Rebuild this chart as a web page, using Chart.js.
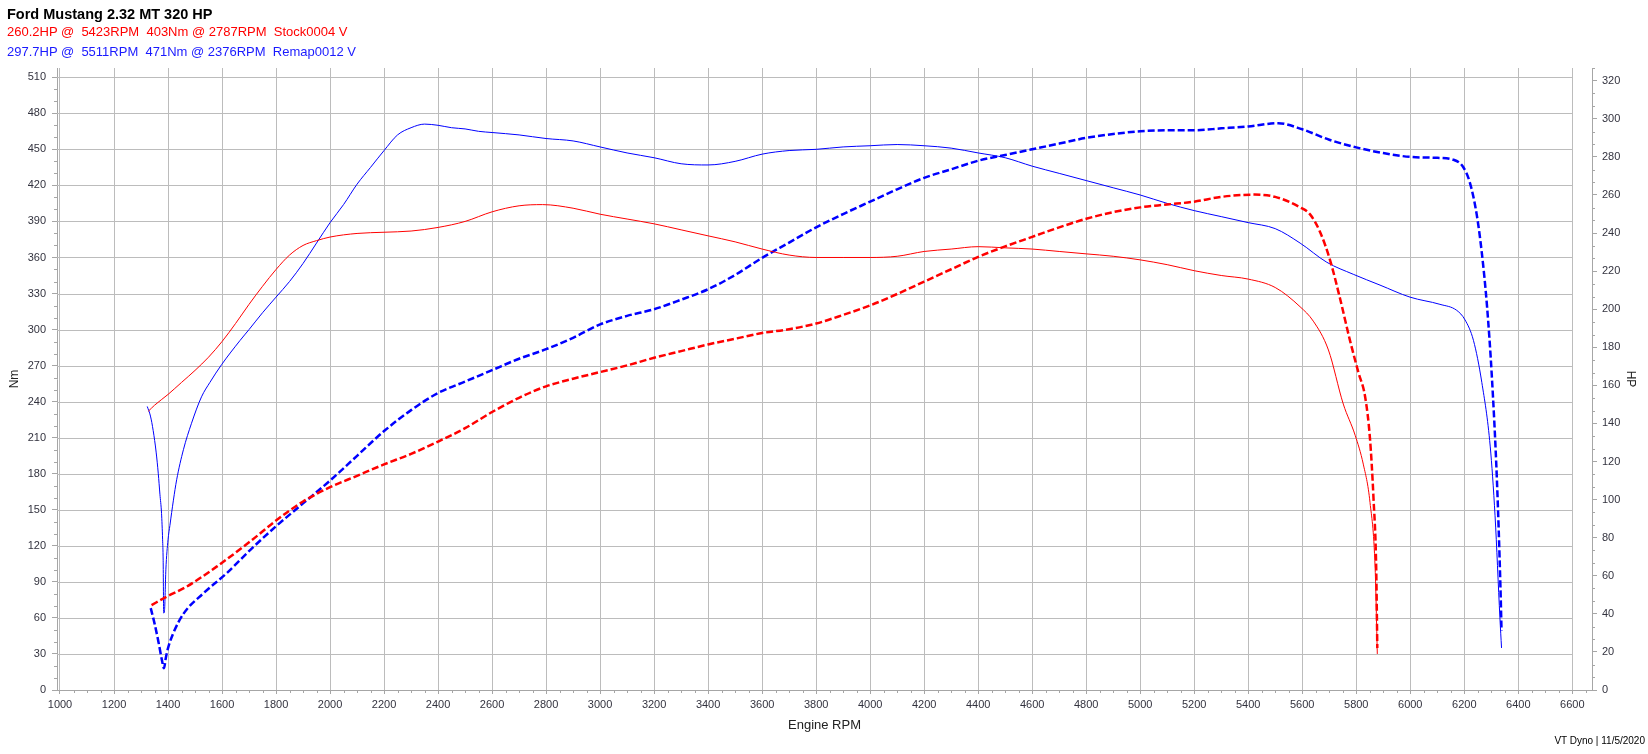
<!DOCTYPE html>
<html>
<head>
<meta charset="utf-8">
<title>Ford Mustang 2.32 MT 320 HP</title>
<script src="https://cdn.jsdelivr.net/npm/chart.js@4.4.1/dist/chart.umd.min.js"></script>
<style>
  html, body { margin: 0; padding: 0; background: #fff; }
  #wrap { position: relative; width: 1648px; height: 754px; overflow: hidden; }
  #chart { position: absolute; left: 0; top: 0; }
  .txt { position: absolute; font-family: "Liberation Sans", Arial, sans-serif; white-space: pre; }
  #title { left: 7px; top: 5px; font-size: 14.5px; line-height: 18px; font-weight: bold; color: #000; }
  #stock { left: 7px; top: 24px; font-size: 13px; line-height: 16px; color: #ff0000; }
  #remap { left: 7px; top: 44px; font-size: 13px; line-height: 16px; color: #1a1aff; }
  #foot { right: 3px; top: 734px; font-size: 10px; line-height: 14px; color: #000; }
</style>
</head>
<body>
<div id="wrap">
  <canvas id="chart" width="1648" height="754"></canvas>
  <div class="txt" id="title">Ford Mustang 2.32 MT 320 HP</div>
  <div class="txt" id="stock">260.2HP @  5423RPM  403Nm @ 2787RPM  Stock0004 V</div>
  <div class="txt" id="remap">297.7HP @  5511RPM  471Nm @ 2376RPM  Remap0012 V</div>
  <div class="txt" id="foot">VT Dyno | 11/5/2020</div>
</div>
<script>
// axis ticks
const rpmTickLabels = [1000, 1200, 1400, 1600, 1800, 2000, 2200, 2400, 2600, 2800, 3000, 3200, 3400, 3600,
  3800, 4000, 4200, 4400, 4600, 4800, 5000, 5200, 5400, 5600, 5800, 6000, 6200, 6400, 6600];
const nmTickLabels = [0, 30, 60, 90, 120, 150, 180, 210, 240, 270, 300, 330, 360, 390, 420, 450, 480, 510];
const hpTickLabels = [0, 20, 40, 60, 80, 100, 120, 140, 160, 180, 200, 220, 240, 260, 280, 300, 320];

// Stock0004 - torque (Nm)
const stockNmRpm = [1327, 1350, 1400, 1450, 1500, 1550, 1600, 1650, 1700, 1750, 1800, 1850, 1900, 1950, 2000,
  2100, 2200, 2300, 2400, 2500, 2600, 2700, 2787, 2900, 3000, 3100, 3200, 3300, 3400, 3500, 3600, 3700, 3800,
  3900, 4000, 4100, 4200, 4300, 4400, 4500, 4600, 4700, 4800, 4900, 5000, 5100, 5200, 5300, 5400, 5500, 5592,
  5641, 5697, 5752, 5796, 5826, 5851, 5870, 5878];
const stockNm = [232, 237, 246, 256, 266, 277, 290, 305, 321, 336, 350, 362, 370, 374, 377,
  380, 381, 382, 385, 390, 398, 403, 404, 401, 396, 392, 388, 383, 378, 373, 367, 362, 360,
  360, 360, 361, 365, 367, 369, 368, 367, 365, 363, 361, 358, 354, 349, 345, 342, 335, 319,
  307, 283, 238, 212, 188, 156, 101, 30];

// Stock0004 - power (HP)
const stockHpRpm = [1339, 1395, 1469, 1580, 1704, 1800, 1900, 2000, 2100, 2200, 2300, 2400, 2500, 2600, 2700,
  2800, 2900, 3000, 3100, 3200, 3300, 3400, 3500, 3600, 3700, 3800, 3900, 4000, 4100, 4200, 4300, 4400, 4500,
  4600, 4700, 4800, 4900, 5000, 5100, 5200, 5300, 5423, 5500, 5592, 5629, 5666, 5703, 5740, 5777, 5808, 5833,
  5851, 5864, 5874, 5878];
const stockHp = [44.6, 49, 54.3, 64.8, 78, 89, 99, 106.5, 112.5, 118.5, 124, 130.5, 137.5, 146, 153.5,
  159.5, 163.5, 167, 170.5, 174.5, 178, 181.5, 184.5, 187.5, 189.5, 192.5, 197, 202, 208, 214.5, 221, 227.5, 233,
  238, 243, 247.5, 251, 253.5, 255, 256.5, 259, 260.2, 259, 253.5, 249.8, 240.6, 225.8, 205.6, 183.5, 166.8, 153.9,
  131.8, 100.4, 63.5, 22];

// Remap0012 - torque (Nm)
const remapNmRpm = [1323, 1335, 1345, 1356, 1364, 1370, 1376, 1380, 1382, 1384, 1387, 1392, 1400, 1407, 1420,
  1432, 1457, 1487, 1524, 1555, 1599, 1667, 1700, 1750, 1800, 1850, 1900, 1950, 2000, 2050, 2100, 2150, 2200,
  2250, 2300, 2350, 2400, 2450, 2500, 2550, 2600, 2700, 2800, 2900, 3000, 3100, 3200, 3300, 3400, 3500, 3600,
  3700, 3800, 3900, 4000, 4100, 4200, 4300, 4400, 4500, 4600, 4700, 4800, 4900, 5000, 5100, 5200, 5300, 5400,
  5500, 5592, 5691, 5789, 5888, 5999, 6110, 6172, 6203, 6234, 6265, 6296, 6314, 6332, 6338];
const remapNm = [236, 228, 216, 198, 180, 163, 147, 125, 108, 64, 66, 100, 125, 137, 158,
  175, 200, 222, 244, 256, 271, 291, 300, 314, 327, 340, 355, 372, 389, 404, 421, 435, 449,
  462, 468, 471, 470, 468, 467, 465, 464, 462, 459, 457, 452, 447, 443, 438, 437, 440, 446,
  449, 450, 452, 453, 454, 453, 451, 447, 443, 436, 430, 424, 418, 412, 405, 399, 394, 389,
  384, 372, 356, 346, 337, 327, 321, 316, 308, 291, 256, 203, 145, 60, 35];

// Remap0012 - power (HP)
const remapHpRpm = [1336, 1350, 1365, 1377, 1385, 1392, 1400, 1420, 1457, 1531, 1617, 1704, 1800, 1900, 2000,
  2100, 2200, 2300, 2400, 2500, 2600, 2700, 2800, 2900, 3000, 3100, 3200, 3300, 3400, 3500, 3600, 3700, 3800,
  3900, 4000, 4100, 4200, 4300, 4400, 4500, 4600, 4700, 4800, 4900, 5000, 5100, 5200, 5300, 5400, 5511, 5600,
  5700, 5800, 5900, 6000, 6100, 6160, 6196, 6221, 6246, 6265, 6284, 6302, 6321, 6334, 6338];
const remapHp = [43, 35, 25, 16, 11.4, 17, 22, 30, 40, 50.8, 61.3, 73.5, 86, 98, 110,
  123, 136, 147, 156, 162, 168, 174, 179, 185, 192, 196.5, 200, 205, 210.5, 218, 227, 235, 243,
  250, 256.5, 263, 269, 273.5, 278, 281, 284, 287, 290, 292, 293.5, 294, 294, 295, 296, 297.7, 294.5,
  289, 285, 282, 280, 279.5, 278.5, 274.7, 266.4, 249.8, 229.6, 202, 165, 110, 54, 31];

const pts = (xs, ys) => xs.map((x, i) => ({ x: x, y: ys[i] }));

Chart.defaults.font.family = "'Liberation Sans', Arial, sans-serif";

const GRID = '#bcbcbc';
const AXIS = '#a6a6a6';
const LABEL = '#33333f';

// horizontal grid (stops at the last rpm line) and the small minor ticks
const dynoGrid = {
  id: 'dynoGrid',
  beforeDatasetsDraw(chart) {
    const { ctx, chartArea: a, scales } = chart;
    const x = scales.x, y = scales.y, y1 = scales.y1;
    const xEnd = Math.round(x.getPixelForValue(rpmTickLabels[rpmTickLabels.length - 1])) + 0.5;
    ctx.save();
    ctx.lineWidth = 1;
    ctx.strokeStyle = GRID;
    ctx.beginPath();
    nmTickLabels.forEach(v => {
      if (v === 0) return;
      const py = Math.round(y.getPixelForValue(v)) + 0.5;
      ctx.moveTo(a.left, py);
      ctx.lineTo(xEnd, py);
    });
    ctx.stroke();

    ctx.strokeStyle = AXIS;
    ctx.beginPath();
    for (let r = 1050; r < x.max; r += 50) {
      if (r % 200 === 0) continue;
      const px = Math.round(x.getPixelForValue(r)) + 0.5;
      ctx.moveTo(px, a.bottom);
      ctx.lineTo(px, a.bottom + 3);
    }
    for (let v = 10; v < y.max; v += 10) {
      if (v % 30 === 0) continue;
      const py = Math.round(y.getPixelForValue(v)) + 0.5;
      ctx.moveTo(a.left - 3, py);
      ctx.lineTo(a.left, py);
    }
    for (let k = 1; k * 20 / 3 < y1.max; k++) {
      if (k % 3 === 0) continue;
      const py = Math.round(y1.getPixelForValue(k * 20 / 3)) + 0.5;
      ctx.moveTo(a.right, py);
      ctx.lineTo(a.right + 3, py);
    }
    ctx.stroke();
    ctx.restore();
  }
};

const tickFont = { family: "'Liberation Sans', Arial, sans-serif", size: 11 };
const plain = v => String(v);

new Chart(document.getElementById('chart').getContext('2d'), {
  type: 'line',
  data: {
    datasets: [
      { label: 'Stock0004 Nm', data: pts(stockNmRpm, stockNm), yAxisID: 'y',
        borderColor: '#ff0000', borderWidth: 1, pointRadius: 0, cubicInterpolationMode: 'monotone' },
      { label: 'Stock0004 HP', data: pts(stockHpRpm, stockHp), yAxisID: 'y1',
        borderColor: '#ff0000', borderWidth: 2.5, borderDash: [7, 3], pointRadius: 0, cubicInterpolationMode: 'monotone' },
      { label: 'Remap0012 Nm', data: pts(remapNmRpm, remapNm), yAxisID: 'y',
        borderColor: '#0000ff', borderWidth: 1, pointRadius: 0, cubicInterpolationMode: 'monotone' },
      { label: 'Remap0012 HP', data: pts(remapHpRpm, remapHp), yAxisID: 'y1',
        borderColor: '#0000ff', borderWidth: 2.5, borderDash: [7, 3], pointRadius: 0, cubicInterpolationMode: 'monotone' }
    ]
  },
  options: {
    responsive: false,
    animation: false,
    devicePixelRatio: 1,
    layout: { padding: { top: 68, left: 0, right: 0, bottom: 0 } },
    plugins: { legend: { display: false }, tooltip: { enabled: false } },
    scales: {
      x: {
        type: 'linear', position: 'bottom', min: 988.9, max: 6673,
        afterBuildTicks: s => { s.ticks = rpmTickLabels.map(v => ({ value: v })); },
        afterFit: s => { s.height = 64; },
        grid: { color: GRID, tickLength: 4, tickColor: AXIS },
        border: { color: AXIS },
        ticks: { font: tickFont, color: LABEL, padding: 4, maxRotation: 0, autoSkip: false, callback: plain },
        title: { display: true, text: 'Engine RPM', color: '#222', font: { size: 13 }, padding: { top: 0, bottom: 21 } }
      },
      y: {
        position: 'left', min: 0, max: 517.7,
        afterBuildTicks: s => { s.ticks = nmTickLabels.map(v => ({ value: v })); },
        afterFit: s => { s.width = 57; },
        grid: { drawOnChartArea: false, tickLength: 5, color: AXIS },
        border: { color: AXIS },
        ticks: { font: tickFont, color: LABEL, padding: 6, callback: plain },
        title: { display: true, text: 'Nm', color: '#222', font: { size: 12 }, padding: { top: 7, bottom: 0 } }
      },
      y1: {
        position: 'right', min: 0, max: 326.7,
        afterBuildTicks: s => { s.ticks = hpTickLabels.map(v => ({ value: v })); },
        afterFit: s => { s.width = 56; },
        grid: { drawOnChartArea: false, tickLength: 5, color: AXIS },
        border: { color: AXIS },
        ticks: { font: tickFont, color: LABEL, padding: 5, callback: plain },
        title: { display: true, text: 'HP', color: '#222', font: { size: 12 }, padding: { top: 10, bottom: 0 } }
      }
    }
  },
  plugins: [dynoGrid]
});
</script>
</body>
</html>
